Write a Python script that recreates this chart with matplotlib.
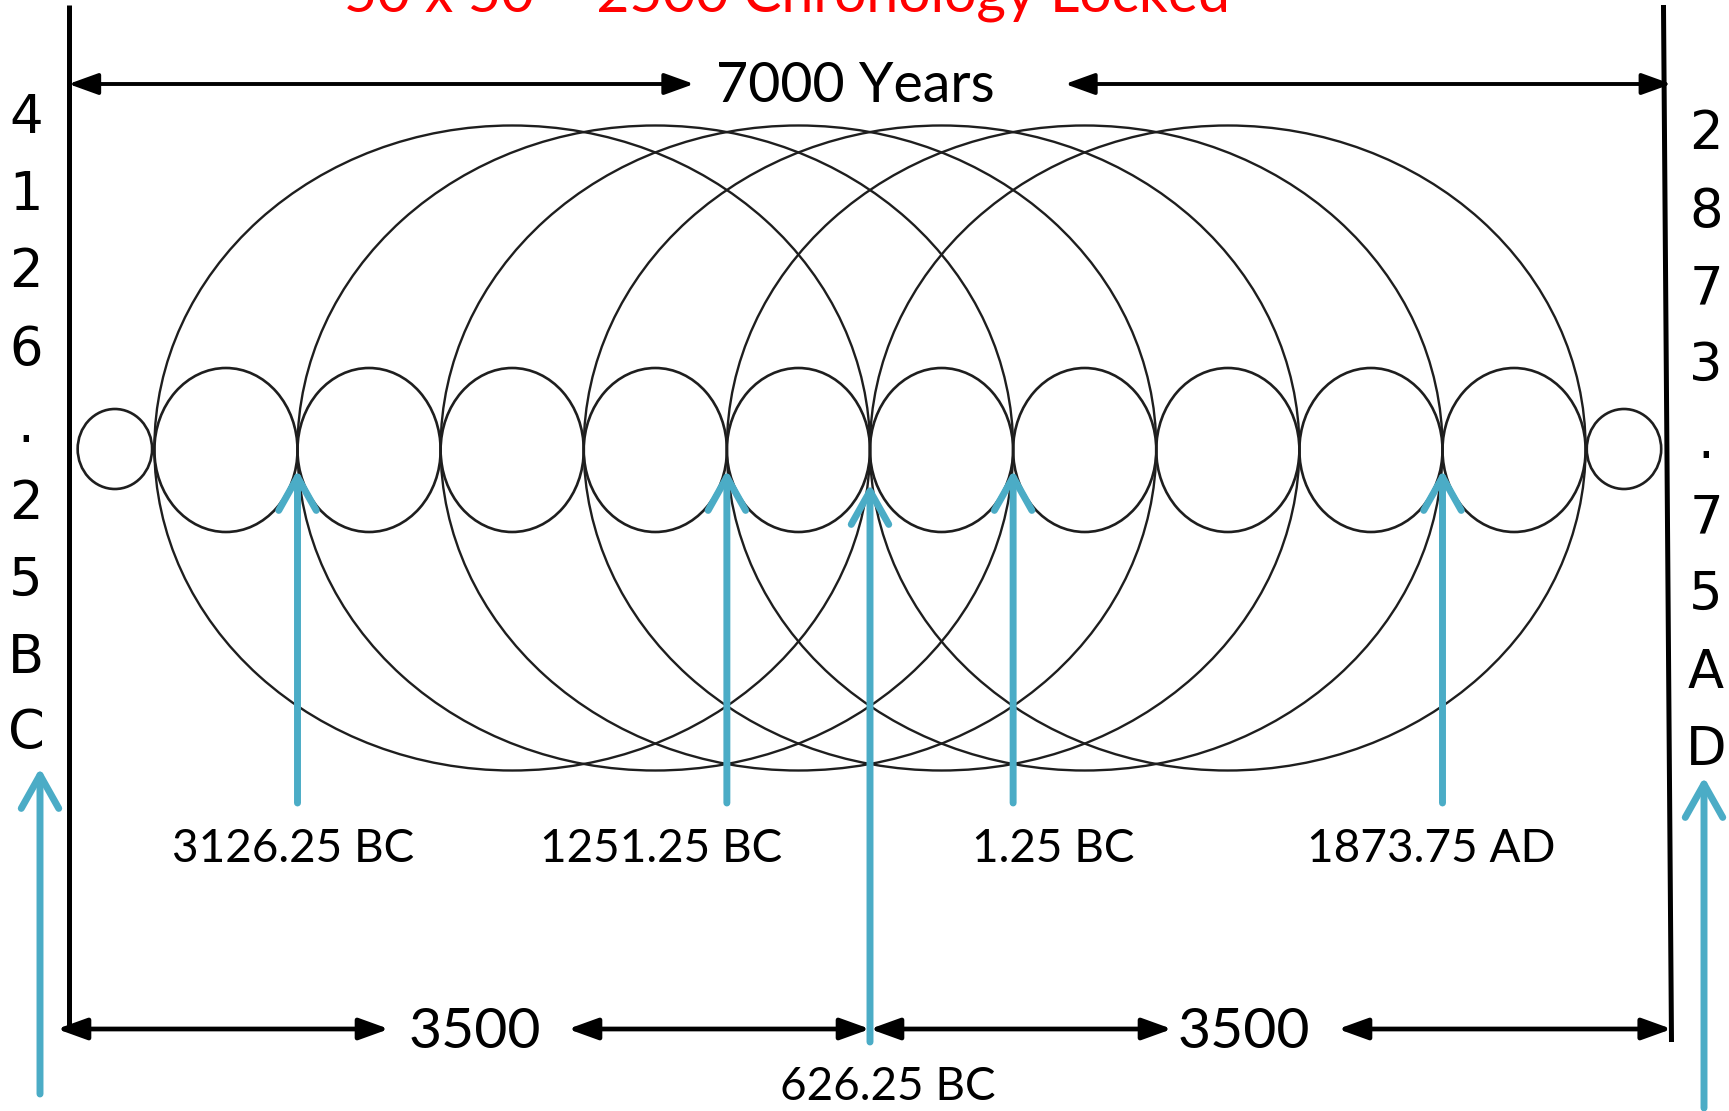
import matplotlib
matplotlib.use("Agg")
import matplotlib.pyplot as plt
from matplotlib.patches import Ellipse, FancyArrowPatch

# ---------------- data ----------------
title = "50 x 50 = 2500 Chronology Locked"
start_year = -4126.25          # 4126.25 BC
end_year = 2873.75             # 2873.75 AD
span_label = "7000 Years"
half_label = "3500"
center_year = -626.25          # 626.25 BC
center_label = "626.25 BC"
small_cycle = 625              # years covered by one small circle
n_small = 10
big_cycle = 3125               # years covered by one big circle
n_big = 6
end_cycle = 325                # tiny circles at both ends
marker_years = [-3126.25, -1251.25, -1.25, 1873.75]
marker_labels = ["3126.25 BC", "1251.25 BC", "1.25 BC", "1873.75 AD"]
left_label = "4126.25BC"
right_label = "2873.75AD"

# ---------------- layout ----------------
W, H = 1729, 1111
PX_PER_YEAR = 0.229
CENTER_PX = 870.0

def px2yr(px):
    return center_year + (px - CENTER_PX) / PX_PER_YEAR

fig = plt.figure(figsize=(W / 100, H / 100), dpi=100)
ax = fig.add_axes([0, 0, 1, 1])
ax.set_xlim(px2yr(0), px2yr(W))
ax.set_ylim(H, 0)
ax.axis("off")

FONT = "Lato"
BLUE = "#4BACC6"
LINE = "#1e1e1e"
CY = 449

chain_start = center_year - (n_small // 2) * small_cycle
chain_end = chain_start + n_small * small_cycle

# big circles
for i in range(n_big):
    left = chain_start + i * small_cycle
    ax.add_patch(Ellipse((left + big_cycle / 2, CY - 1), big_cycle, 645,
                         fill=False, ec=LINE, lw=1.7))
# small circles
for i in range(n_small):
    ax.add_patch(Ellipse((chain_start + (i + 0.5) * small_cycle, CY + 1), small_cycle, 164,
                         fill=False, ec=LINE, lw=1.9))
# tiny end circles
for c in (chain_start - end_cycle / 2 - 10, chain_end + end_cycle / 2 + 5):
    ax.add_patch(Ellipse((c, CY), end_cycle, 80, fill=False, ec=LINE, lw=1.9))

# walls
ax.plot([start_year, start_year], [5, 1027], color="black", lw=3.6, solid_capstyle="butt")
ax.plot([end_year - 35, end_year], [5, 1042], color="black", lw=3.6, solid_capstyle="butt")

def black_arrow(x0, x1, y, lw=2.8):
    ax.add_patch(FancyArrowPatch((x0, y), (x1, y),
                                 arrowstyle="<|-|>,head_length=1.8,head_width=0.65",
                                 mutation_scale=10, lw=lw, color="black",
                                 shrinkA=0, shrinkB=0))

def blue_arrow(x, y0, y1):
    ax.add_patch(FancyArrowPatch((x, y0), (x, y1),
                                 arrowstyle="->,head_length=2.4,head_width=1.35",
                                 mutation_scale=10, lw=5, color=BLUE,
                                 shrinkA=0, shrinkB=0, capstyle="round",
                                 joinstyle="round"))

# top span arrows
black_arrow(start_year, px2yr(694), 84)
black_arrow(px2yr(1065), end_year - 1, 84)
ax.text(px2yr(855), 87, span_label, fontsize=40, family=FONT, ha="center", va="center")

# bottom half-span arrows
black_arrow(px2yr(57), px2yr(389), 1029, lw=3.4)
black_arrow(px2yr(568), center_year, 1029, lw=3.4)
black_arrow(center_year, px2yr(1172), 1029, lw=3.4)
black_arrow(px2yr(1338), end_year + 1, 1029, lw=3.4)
ax.text(px2yr(475), 1032, half_label, fontsize=41, family=FONT, ha="center", va="center")
ax.text(px2yr(1244), 1032, half_label, fontsize=41, family=FONT, ha="center", va="center")

# title (cut off at the top, as in the original)
ax.text(px2yr(787), 12, title, fontsize=41, family=FONT, color="red",
        ha="center", va="baseline")

# blue markers
label_px = [293, 661, 1053, 1431]
for yr, lab, lpx in zip(marker_years, marker_labels, label_px):
    blue_arrow(yr, 803, 470)
    ax.text(px2yr(lpx), 849, lab, fontsize=33, family=FONT, ha="center", va="center")

blue_arrow(center_year, 1042, 484)
ax.text(px2yr(888), 1087, center_label, fontsize=33, family=FONT, ha="center", va="center")

# edge arrows and vertical labels
blue_arrow(px2yr(40), 1094, 768)
blue_arrow(px2yr(1704), 1108, 777)

left_y = [118, 195, 272, 350, 427, 504, 581, 658, 733]
right_y = [134, 212, 289, 366, 443, 518, 595, 673, 750]
for ch, y in zip(left_label, left_y):
    ax.text(px2yr(26), y, ch, fontsize=38, family="DejaVu Sans", ha="center", va="center")
for ch, y in zip(right_label, right_y):
    ax.text(px2yr(1706), y, ch, fontsize=38, family="DejaVu Sans", ha="center", va="center")

fig.savefig("out.png", dpi=100, facecolor="white")
